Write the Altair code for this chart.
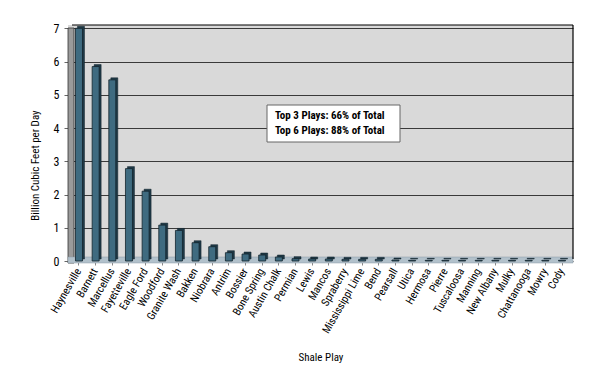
import altair as alt
import pandas as pd

plays = ["Haynesville", "Barnett", "Marcellus", "Fayetteville", "Eagle Ford", "Woodford",
         "Granite Wash", "Bakken", "Niobrara", "Antrim", "Bossier", "Bone Spring",
         "Austin Chalk", "Permian", "Lewis", "Mancos", "Spraberry", "Mississippi Lime",
         "Bend", "Pearsall", "Utica", "Hermosa", "Pierre", "Tuscaloosa", "Manning",
         "New Albany", "Mulky", "Chattanooga", "Mowry", "Cody"]
values = [7.0, 5.85, 5.45, 2.78, 2.1, 1.08, 0.92, 0.55, 0.43, 0.25, 0.21, 0.18, 0.12,
          0.07, 0.06, 0.06, 0.05, 0.05, 0.05, 0.03, 0.02, 0.02, 0.02, 0.02, 0.02, 0.02,
          0.02, 0.02, 0.02, 0.02]
y_ticks = [0, 1, 2, 3, 4, 5, 6, 7]
notes = ["Top 3 Plays: 66% of Total", "Top 6 Plays: 88% of Total"]

df = pd.DataFrame({"play": plays, "bcfd": values})

W, H = 505, 236
FONT = "Roboto Condensed"

xscale = alt.Scale(domain=plays, paddingInner=0.58, paddingOuter=0.45)
yscale = alt.Scale(domain=[0, 7.1], nice=False)

xenc = alt.X("play:N", sort=plays, scale=xscale, title="Shale Play",
             axis=alt.Axis(labelAngle=-60, labelAlign="right", labelBaseline="middle",
                           labelFont=FONT, labelFontSize=11, labelColor="#000",
                           labelPadding=4, domain=False, tickColor="#888", tickSize=4,
                           labelOverlap=False,
                           titleFont=FONT, titleFontSize=11, titleFontWeight="normal",
                           titleY=96, titleBaseline="middle", titleColor="#000"))
yenc = alt.Y("bcfd:Q", scale=yscale, title="Billion Cubic Feet per Day",
             axis=alt.Axis(values=y_ticks, grid=True, gridColor="#3a3a3a", gridWidth=1,
                           domain=False, tickColor="#666", tickSize=4, labelOverlap=False,
                           labelFont=FONT, labelFontSize=12, labelColor="#000",
                           labelPadding=5,
                           titleFont=FONT, titleFontSize=11, titleFontWeight="normal",
                           titleColor="#000", titleX=-33, titleY=140,
                           titleAngle=-90, titleAlign="center", titleBaseline="middle"))

one = alt.Data(values=[{"k": 1}])

wall = alt.Chart(one).mark_rect(fill="#9a9a9a", stroke="#333", strokeWidth=0.8).encode(
    x=alt.value(0), x2=alt.value(6), y=alt.value(3), y2=alt.value(H + 2))
floor = alt.Chart(one).mark_rect(fill="#b2c1cb", stroke="#8a9aa5", strokeWidth=0.5).encode(
    x=alt.value(0), x2=alt.value(W), y=alt.value(H - 4), y2=alt.value(H + 2))

side = alt.Chart(df).mark_bar(color="#1f3a47", xOffset=2, yOffset=-2,
                              stroke="#10202a", strokeWidth=0.5).encode(x=xenc, y=yenc)
bars = alt.Chart(df).mark_bar(color="#3f6b80", stroke="#13232c", strokeWidth=0.8).encode(
    x=xenc, y=yenc)

top_line = alt.Chart(one).mark_rule(color="#000", strokeWidth=1.2).encode(
    x=alt.value(4), x2=alt.value(W), y=alt.value(0))
right_line = alt.Chart(one).mark_rule(color="#000", strokeWidth=1.2).encode(
    x=alt.value(W), y=alt.value(0), y2=alt.value(H - 2))

box = alt.Chart(one).mark_rect(fill="white", stroke="#666", strokeWidth=1).encode(
    x=alt.value(199), x2=alt.value(332), y=alt.value(80), y2=alt.value(117))
note = alt.Chart(one).mark_text(align="left", baseline="middle", font=FONT, fontSize=11,
                                fontWeight="bold", lineHeight=15, color="#000").encode(
    x=alt.value(207), y=alt.value(91), text=alt.value(notes))

chart = alt.layer(wall, floor, side, bars, top_line, right_line, box, note).properties(
    width=W, height=H,
    background="white",
    autosize=alt.AutoSizeParams(type="none"),
    padding={"left": 60, "top": 17, "right": 16, "bottom": 108},
).configure_view(stroke=None, fill="#d9d9d9")

chart.save("out.html", embed_options={"renderer": "svg", "actions": False})
